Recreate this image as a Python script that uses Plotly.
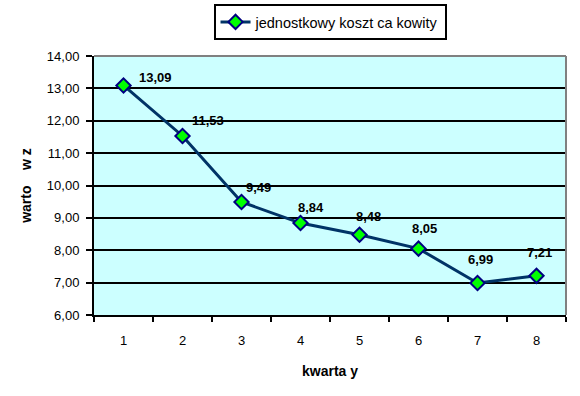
import plotly.graph_objects as go

quarters = ["1", "2", "3", "4", "5", "6", "7", "8"]
unit_cost = [13.09, 11.53, 9.49, 8.84, 8.48, 8.05, 6.99, 7.21]
series_name = "jednostkowy koszt ca kowity"
y_title = "warto    w z"
x_title = "kwarta y"

# label offsets (px) relative to each point, style only
label_dx = [32, 25, 17, 10, 9, 6, 3, 3]
label_dy = [8, 15, 15, 16, 18, 20, 23, 23]

font_family = "Liberation Sans, Arial, sans-serif"

fig = go.Figure()
fig.add_trace(go.Scatter(
    x=quarters, y=unit_cost, mode="lines+markers", name=series_name,
    line=dict(color="#003366", width=3),
    marker=dict(symbol="diamond", size=11, color="#00FF00",
                line=dict(color="#000080", width=2)),
    showlegend=True,
))

for i, (v, dx, dy) in enumerate(zip(unit_cost, label_dx, label_dy)):
    fig.add_annotation(
        x=i, y=v, xref="x", yref="y",
        text="<b>" + f"{v:.2f}".replace(".", ",") + "</b>",
        showarrow=False, xshift=dx, yshift=dy,
        font=dict(family=font_family, size=13, color="#000000"),
    )

# gray top and right border of plot area
fig.add_shape(type="line", xref="paper", yref="paper", x0=0, x1=1, y0=1, y1=1,
              line=dict(color="#808080", width=2), layer="above")
fig.add_shape(type="line", xref="paper", yref="paper", x0=1, x1=1, y0=0, y1=1,
              line=dict(color="#808080", width=2), layer="above")

fig.update_layout(
    width=580, height=396,
    margin=dict(l=94, r=14, t=56, b=81),
    paper_bgcolor="#FFFFFF",
    plot_bgcolor="#CCFFFF",
    separators=", ",
    font=dict(family=font_family, size=13, color="#000000"),
    legend=dict(
        xref="container", yref="container",
        x=0.569, xanchor="center", y=0.99, yanchor="top",
        orientation="h",
        bordercolor="#000000", borderwidth=2, bgcolor="#FFFFFF",
        font=dict(family=font_family, size=14.5, color="#000000"),
    ),
    xaxis=dict(
        type="category", tickson="boundaries", ticks="outside", ticklen=5,
        tickwidth=2, tickcolor="#000000",
        showline=True, linecolor="#000000", linewidth=2,
        showgrid=False, range=[-0.5, 7.5], automargin=False,
        ticklabelstandoff=12,
        title=dict(text="<b>" + x_title + "</b>", standoff=20,
                   font=dict(family=font_family, size=14)),
        tickfont=dict(family=font_family, size=13),
    ),
    yaxis=dict(
        range=[6, 14], dtick=1, tickformat=".2f",
        ticks="outside", ticklen=6, tickwidth=2, tickcolor="#000000",
        showline=True, linecolor="#000000", linewidth=2,
        showgrid=True, gridcolor="#000000", gridwidth=2,
        zeroline=False, ticklabelstandoff=4, automargin=False,
        title=dict(text="<b>" + y_title + "</b>", standoff=12,
                   font=dict(family=font_family, size=14)),
        tickfont=dict(family=font_family, size=13),
    ),
)

fig.write_html("out.html", config={"displayModeBar": False},
               post_script="document.body.style.margin='0';")
